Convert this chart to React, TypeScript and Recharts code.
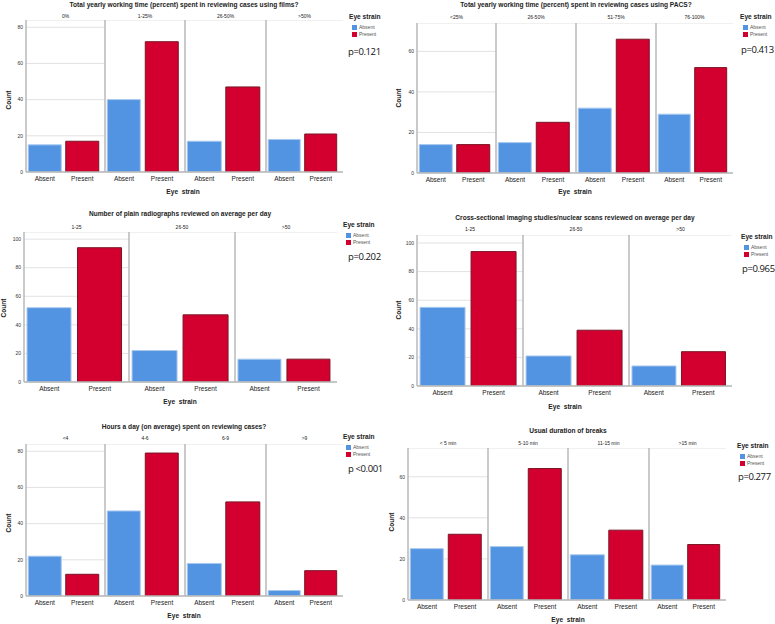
import React from 'react';
import { BarChart, Bar, XAxis, YAxis, CartesianGrid, Cell } from 'recharts';

const strainLabels = ['Absent', 'Present'];

const p1Title = 'Total yearly working time (percent) spent in reviewing cases using films?';
const p1Facets = ['0%', '1-25%', '26-50%', '>50%'];
const p1Absent = [15, 40, 17, 18];
const p1Present = [17, 72, 47, 21];
const p1Ticks = [0, 20, 40, 60, 80];
const p1P = 'p=0.121';

const p2Title = 'Total yearly working time (percent) spent in reviewing cases using PACS?';
const p2Facets = ['<25%', '26-50%', '51-75%', '76-100%'];
const p2Absent = [14, 15, 32, 29];
const p2Present = [14, 25, 66, 52];
const p2Ticks = [0, 20, 40, 60];
const p2P = 'p=0.413';

const p3Title = 'Number of plain radiographs reviewed on average per day';
const p3Facets = ['1-25', '26-50', '>50'];
const p3Absent = [52, 22, 16];
const p3Present = [94, 47, 16];
const p3Ticks = [0, 20, 40, 60, 80, 100];
const p3P = 'p=0.202';

const p4Title = 'Cross-sectional imaging studies/nuclear scans reviewed on average per day';
const p4Facets = ['1-25', '26-50', '>50'];
const p4Absent = [55, 21, 14];
const p4Present = [94, 39, 24];
const p4Ticks = [0, 20, 40, 60, 80, 100];
const p4P = 'p=0.965';

const p5Title = 'Hours a day (on average) spent on reviewing cases?';
const p5Facets = ['<4', '4-6', '6-9', '>9'];
const p5Absent = [22, 47, 18, 3];
const p5Present = [12, 79, 52, 14];
const p5Ticks = [0, 20, 40, 60, 80];
const p5P = 'p <0.001';

const p6Title = 'Usual duration of breaks';
const p6Facets = ['< 5 min', '5-10 min', '11-15 min', '>15 min'];
const p6Absent = [25, 26, 22, 17];
const p6Present = [32, 64, 34, 27];
const p6Ticks = [0, 20, 40, 60];
const p6P = 'p=0.277';

const C_ABSENT = '#5294e2';
const C_PRESENT = '#d3002f';
const S_ABSENT = '#a8c8ee';
const S_PRESENT = '#7a1526';
const AXIS = '#b8b8b8';
const GRID = '#e2e2e2';
const FONT = '"Liberation Sans", Arial, sans-serif';

type TProps = { x: number; y: number; size: number; bold?: boolean; anchor?: 'left' | 'center'; rotate?: boolean; family?: string; color?: string; spacing?: number; children: React.ReactNode };
function T({ x, y, size, bold, anchor = 'center', rotate, family, color, spacing, children }: TProps) {
  const tx = anchor === 'center' ? '-50%' : '0';
  return (
    <div
      style={{
        position: 'absolute',
        left: x,
        top: y,
        fontSize: size,
        lineHeight: 1,
        fontWeight: bold ? 700 : 400,
        fontFamily: family || FONT,
        color: color || '#222',
        letterSpacing: spacing,
        whiteSpace: 'nowrap',
        transform: `translate(${tx}, -50%)${rotate ? ' rotate(-90deg)' : ''}`,
      }}
    >
      {children}
    </div>
  );
}

type PanelCfg = {
  title: string; facets: string[]; absent: number[]; present: number[]; ticks: number[]; yMax: number; pText: string;
  titleX: number; titleY: number; edges: number[]; plotTop: number; plotBottom: number; facetY: number;
  eyeX: number; eyeY: number; countX: number; countY: number; legendX: number; legendY: number; pX: number; pY: number;
};

const Y_W = 22;
const X_H = 16;

function Facet({ cfg, i }: { cfg: PanelCfg; i: number }) {
  const first = i === 0;
  const yw = first ? Y_W : 2;
  const plotW = cfg.edges[i + 1] - cfg.edges[i];
  const plotH = cfg.plotBottom - cfg.plotTop;
  const data = strainLabels.map((name, k) => ({ name, value: k === 0 ? cfg.absent[i] : cfg.present[i] }));
  return (
    <div style={{ position: 'absolute', left: cfg.edges[i] - yw, top: cfg.plotTop }}>
      <BarChart width={plotW + yw} height={plotH + X_H} data={data} margin={{ top: 0, right: 0, bottom: 0, left: 0 }} barCategoryGap="6%">
        <CartesianGrid vertical={false} stroke={GRID} strokeWidth={1} />
        <XAxis
          dataKey="name"
          interval={0}
          height={X_H}
          tickLine={false}
          tickSize={0}
          tickMargin={4}
          padding={{ left: 0, right: 4 }}
          axisLine={{ stroke: AXIS, strokeWidth: 1.5 }}
          tick={{ fontSize: 6.5, fill: '#222', fontFamily: FONT }}
        />
        <YAxis
          type="number"
          domain={[0, cfg.yMax]}
          ticks={cfg.ticks}
          width={yw}
          tickLine={false}
          tickSize={0}
          tickMargin={3}
          axisLine={{ stroke: AXIS, strokeWidth: 1.5 }}
          tick={first ? { fontSize: 5, fill: '#333', fontFamily: FONT } : false}
          allowDataOverflow
        />
        <Bar dataKey="value" isAnimationActive={false} strokeWidth={1}>
          {data.map((d, k) => (
            <Cell key={k} fill={k === 0 ? C_ABSENT : C_PRESENT} stroke={k === 0 ? S_ABSENT : S_PRESENT} />
          ))}
        </Bar>
      </BarChart>
    </div>
  );
}

function Panel({ cfg }: { cfg: PanelCfg }) {
  return (
    <>
      <T x={cfg.titleX} y={cfg.titleY} size={6.6} bold>{cfg.title}</T>
      {cfg.facets.map((f, i) => (
        <T key={f} x={(cfg.edges[i] + cfg.edges[i + 1]) / 2} y={cfg.facetY} size={5}>{f}</T>
      ))}
      {cfg.facets.map((f, i) => <Facet key={'c' + f} cfg={cfg} i={i} />)}
      <T x={cfg.eyeX} y={cfg.eyeY} size={6.6} bold>Eye&nbsp;&nbsp;strain</T>
      <T x={cfg.countX} y={cfg.countY} size={6.6} bold rotate>Count</T>
      <T x={cfg.legendX} y={cfg.legendY} size={6.6} bold anchor="left">Eye strain</T>
      <div style={{ position: 'absolute', left: cfg.legendX + 3, top: cfg.legendY + 7.5, width: 5, height: 5, background: C_ABSENT }} />
      <T x={cfg.legendX + 10} y={cfg.legendY + 10} size={5} anchor="left" color="#555">Absent</T>
      <div style={{ position: 'absolute', left: cfg.legendX + 3, top: cfg.legendY + 14.5, width: 5, height: 5, background: C_PRESENT }} />
      <T x={cfg.legendX + 10} y={cfg.legendY + 17} size={5} anchor="left" color="#555">Present</T>
      <T x={cfg.pX} y={cfg.pY} size={9.5} spacing={-0.4} anchor="left" family='"Open Sans", "Noto Sans", sans-serif' color="#111">{cfg.pText}</T>
    </>
  );
}

const panels: PanelCfg[] = [
  {
    title: p1Title, facets: p1Facets, absent: p1Absent, present: p1Present, ticks: p1Ticks, yMax: 84, pText: p1P,
    titleX: 184, titleY: 5, edges: [26, 105, 185, 266, 343], plotTop: 20, plotBottom: 172, facetY: 16,
    eyeX: 183, eyeY: 192, countX: 9, countY: 100, legendX: 349, legendY: 17, pX: 348, pY: 52,
  },
  {
    title: p2Title, facets: p2Facets, absent: p2Absent, present: p2Present, ticks: p2Ticks, yMax: 74, pText: p2P,
    titleX: 576, titleY: 5, edges: [417, 496, 576, 656, 733], plotTop: 23, plotBottom: 173, facetY: 17,
    eyeX: 575, eyeY: 192, countX: 399, countY: 98, legendX: 740, legendY: 17, pX: 741, pY: 50,
  },
  {
    title: p3Title, facets: p3Facets, absent: p3Absent, present: p3Present, ticks: p3Ticks, yMax: 105, pText: p3P,
    titleX: 180, titleY: 214, edges: [24, 129, 235, 337], plotTop: 232, plotBottom: 382, facetY: 227,
    eyeX: 180, eyeY: 402, countX: 4, countY: 308, legendX: 343, legendY: 225, pX: 348, pY: 257,
  },
  {
    title: p4Title, facets: p4Facets, absent: p4Absent, present: p4Present, ticks: p4Ticks, yMax: 105.6, pText: p4P,
    titleX: 575, titleY: 218, edges: [417, 523, 629, 732], plotTop: 235, plotBottom: 386, facetY: 229,
    eyeX: 565, eyeY: 407, countX: 399, countY: 310, legendX: 741, legendY: 237, pX: 742, pY: 269,
  },
  {
    title: p5Title, facets: p5Facets, absent: p5Absent, present: p5Present, ticks: p5Ticks, yMax: 84, pText: p5P,
    titleX: 184, titleY: 427, edges: [26, 105, 185, 266, 343], plotTop: 444, plotBottom: 596, facetY: 438,
    eyeX: 184, eyeY: 616, countX: 9, countY: 523, legendX: 343, legendY: 437, pX: 348, pY: 469,
  },
  {
    title: p6Title, facets: p6Facets, absent: p6Absent, present: p6Present, ticks: p6Ticks, yMax: 74, pText: p6P,
    titleX: 568, titleY: 431, edges: [408, 488, 568, 649, 726], plotTop: 448, plotBottom: 600, facetY: 443,
    eyeX: 568, eyeY: 620, countX: 392, countY: 522, legendX: 737, legendY: 446, pX: 738, pY: 477,
  },
];

export default function App() {
  return (
    <div style={{ position: 'absolute', left: 0, top: 0, width: 775, height: 624, background: '#fff', overflow: 'hidden' }}>
      {panels.map((cfg, idx) => <Panel key={idx} cfg={cfg} />)}
    </div>
  );
}
